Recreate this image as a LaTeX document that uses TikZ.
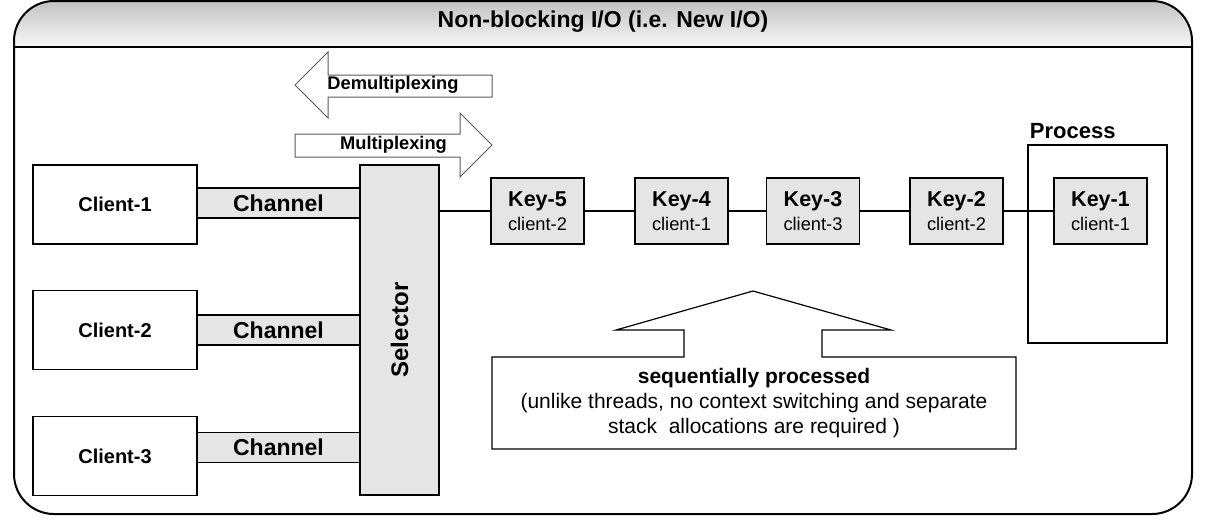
\documentclass[tikz,border=0pt]{standalone}
\usepackage{fontspec}
\setmainfont{Liberation Sans}
\usetikzlibrary{positioning,calc}

\begin{document}
\begin{tikzpicture}[x=1pt,y=-1pt,font=\fontsize{20}{24}\selectfont,line width=1.2pt,
  clientbox/.style={draw,minimum width=164pt,minimum height=79pt,font=\fontsize{20}{24}\selectfont\bfseries},
  chanbox/.style={draw,fill=black!10,minimum width=163pt,minimum height=30pt,inner sep=0pt,font=\fontsize{23}{26}\selectfont\bfseries},
  keybox/.style={draw,fill=black!10,minimum width=93pt,minimum height=66pt,inner sep=0pt,align=center,font=\fontsize{18.3}{24}\selectfont},
  blockarrow/.style={draw=black!65,fill=white,line width=1pt},
  arrowtext/.style={font=\fontsize{18.3}{20}\selectfont\bfseries}]
\useasboundingbox (0,0) rectangle (1206,520);
% frame with shaded title band
\begin{scope}
\clip[rounded corners=40] (14,1) rectangle (1192,514);
\shade[top color=black!24,bottom color=black!3] (14,1) rectangle (1192,47);
\end{scope}
\draw[line width=2pt,rounded corners=40] (14,1) rectangle (1192,514);
\draw[line width=2.4pt] (14,47)--(1192,47);
\node[font=\fontsize{23}{26}\selectfont\bfseries] (title) at (603,22) {Non-blocking I/O (i.e. New I/O)};
% clients, channels, selector
\foreach \n/\y/\c in {1/204.5/203,2/330/330,3/456/447.5}{
  \node[clientbox] (client\n) at (115,\y) {Client-\n};
  \node[chanbox] (chan\n) at (278.5,\c) {Channel};}
\node[draw,fill=black!10,minimum width=79pt,minimum height=330pt] (sel) at (399.5,330) {};
\node[rotate=90,font=\fontsize{24}{28}\selectfont\bfseries] (seltext) at (sel) {Selector};
% multiplexing arrows
\draw[blockarrow] (295,85)--(328,52)--(328,75)--(492,75)--(492,97)--(328,97)--(328,118)--cycle;
\node[arrowtext] (demux) at (393,85) {Demultiplexing};
\draw[blockarrow] (295,134)--(460,134)--(460,113)--(492,145)--(460,177)--(460,157)--(295,157)--cycle;
\node[arrowtext] (mux) at (393.5,145) {Multiplexing};
% process and keys
\node[draw,minimum width=139pt,minimum height=198pt] (proc) at (1097.5,244) {};
\node[anchor=base west,font=\fontsize{22}{26}\selectfont\bfseries] (proclabel) at (1026,138) {Process};
\foreach \k/\x/\c in {5/537.5/2,4/681.5/1,3/813/3,2/956.5/2,1/1100.5/1}{
  \node[keybox] (key\k) at (\x,211) {\textbf{\fontsize{21.5}{24}\selectfont Key-\k}\\client-\c};}
\draw (sel.east|-key5)--(key5) (key5)--(key4) (key4)--(key3) (key3)--(key2) (key2)--(key1);
% callout
\draw (492,357)--(684,357)--(684,330)--(616,330)--(753,291)--(891,330)--(822,330)--(822,357)--(1016,357)--(1016,449)--(492,449)--cycle;
\node[align=center,font=\fontsize{21}{25}\selectfont] (note) at (754,403)
  {\textbf{sequentially processed}\\(unlike threads, no context switching and separate\\stack~ allocations are required )};
\end{tikzpicture}
\end{document}
